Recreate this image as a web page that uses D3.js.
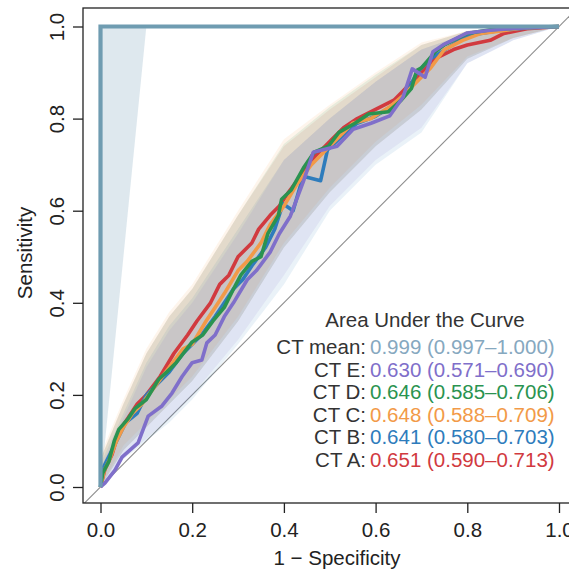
<!DOCTYPE html>
<html>
<head>
<meta charset="utf-8">
<script src="https://cdn.jsdelivr.net/npm/d3@7"></script>
<style>
  html, body { margin: 0; padding: 0; background: #fff; }
  svg { display: block; font-family: "Liberation Sans", Arial, sans-serif; }
</style>
</head>
<body>
<div id="chart"></div>
<script>
// ---- data ----
var ticks = [0, 0.2, 0.4, 0.6, 0.8, 1.0];

var seriesNames = ['CT A', 'CT B', 'CT C', 'CT D', 'CT E'];
var seriesColors = ['#d13a3f', '#2e7cbc', '#f29a48', '#2a9350', '#7f6fca'];
var aucText = ['0.651 (0.590\u20130.713)', '0.641 (0.580\u20130.703)', '0.648 (0.588\u20130.709)',
               '0.646 (0.585\u20130.706)', '0.630 (0.571\u20130.690)'];

var fprA  = [0, 0.01, 0.025, 0.04, 0.06, 0.08, 0.1, 0.13, 0.16, 0.19, 0.21, 0.24, 0.26, 0.28, 0.3, 0.33, 0.345, 0.37, 0.39, 0.41, 0.44, 0.47, 0.5, 0.53, 0.56, 0.6, 0.64, 0.67, 0.7, 0.73, 0.77, 0.8, 0.85, 0.88, 0.93, 1];
var sensA = [0, 0.04, 0.07, 0.12, 0.15, 0.18, 0.2, 0.24, 0.29, 0.33, 0.36, 0.4, 0.44, 0.46, 0.5, 0.53, 0.56, 0.59, 0.61, 0.64, 0.68, 0.72, 0.75, 0.78, 0.8, 0.82, 0.84, 0.87, 0.9, 0.93, 0.95, 0.96, 0.97, 0.985, 0.995, 1];

var fprB  = [0, 0.005, 0.02, 0.04, 0.055, 0.08, 0.1, 0.12, 0.15, 0.18, 0.2, 0.22, 0.25, 0.27, 0.29, 0.31, 0.33, 0.36, 0.38, 0.398, 0.42, 0.442, 0.48, 0.495, 0.53, 0.56, 0.6, 0.64, 0.67, 0.69, 0.72, 0.76, 0.8, 0.86, 0.93, 1];
var sensB = [0, 0.04, 0.07, 0.11, 0.14, 0.16, 0.2, 0.22, 0.25, 0.29, 0.31, 0.33, 0.37, 0.4, 0.43, 0.45, 0.48, 0.52, 0.56, 0.615, 0.6, 0.675, 0.665, 0.732, 0.765, 0.79, 0.805, 0.83, 0.86, 0.9, 0.93, 0.955, 0.98, 0.99, 0.997, 1];

var fprC  = [0, 0.008, 0.02, 0.035, 0.05, 0.07, 0.09, 0.12, 0.15, 0.18, 0.2, 0.23, 0.25, 0.27, 0.3, 0.32, 0.35, 0.37, 0.4, 0.43, 0.46, 0.49, 0.52, 0.55, 0.59, 0.63, 0.66, 0.69, 0.72, 0.75, 0.79, 0.83, 0.87, 0.92, 1];
var sensC = [0, 0.035, 0.06, 0.1, 0.13, 0.16, 0.18, 0.22, 0.26, 0.3, 0.31, 0.36, 0.39, 0.42, 0.47, 0.49, 0.53, 0.57, 0.61, 0.66, 0.7, 0.73, 0.76, 0.79, 0.8, 0.825, 0.85, 0.88, 0.91, 0.95, 0.97, 0.985, 0.99, 0.997, 1];

var fprD  = [0, 0.005, 0.018, 0.03, 0.04, 0.06, 0.075, 0.1, 0.127, 0.145, 0.165, 0.2, 0.223, 0.245, 0.27, 0.29, 0.306, 0.33, 0.35, 0.365, 0.388, 0.395, 0.416, 0.444, 0.466, 0.497, 0.52, 0.555, 0.585, 0.628, 0.656, 0.678, 0.69, 0.7, 0.73, 0.75, 0.8, 0.85, 0.93, 1];
var sensD = [0, 0.03, 0.055, 0.1, 0.125, 0.148, 0.17, 0.19, 0.234, 0.25, 0.27, 0.315, 0.33, 0.36, 0.39, 0.43, 0.46, 0.49, 0.5, 0.55, 0.59, 0.625, 0.645, 0.695, 0.727, 0.74, 0.77, 0.79, 0.81, 0.815, 0.84, 0.865, 0.905, 0.91, 0.945, 0.96, 0.985, 0.993, 0.998, 1];

var fprE  = [0, 0.01, 0.032, 0.047, 0.082, 0.104, 0.134, 0.156, 0.178, 0.2, 0.221, 0.232, 0.25, 0.27, 0.29, 0.32, 0.34, 0.37, 0.39, 0.414, 0.442, 0.464, 0.516, 0.551, 0.59, 0.631, 0.66, 0.68, 0.708, 0.725, 0.747, 0.8, 0.85, 0.921, 1];
var sensE = [0, 0.009, 0.037, 0.065, 0.096, 0.154, 0.176, 0.204, 0.24, 0.27, 0.276, 0.313, 0.33, 0.37, 0.4, 0.45, 0.47, 0.51, 0.55, 0.588, 0.662, 0.727, 0.74, 0.777, 0.79, 0.806, 0.847, 0.908, 0.89, 0.945, 0.96, 0.986, 0.992, 0.997, 1];

// confidence bands, sampled on one fpr grid
var bandFpr = [0, 0.05, 0.1, 0.15, 0.2, 0.3, 0.4, 0.5, 0.6, 0.7, 0.8, 0.9, 1];
var hiA = [0.06, 0.18, 0.29, 0.37, 0.43, 0.59, 0.74, 0.82, 0.89, 0.96, 0.99, 1, 1];
var loA = [0, 0.08, 0.13, 0.18, 0.23, 0.36, 0.52, 0.64, 0.74, 0.82, 0.93, 0.975, 1];
var hiB = [0.05, 0.16, 0.27, 0.35, 0.41, 0.56, 0.71, 0.8, 0.88, 0.95, 0.985, 1, 1];
var loB = [0, 0.06, 0.1, 0.14, 0.19, 0.31, 0.44, 0.6, 0.7, 0.77, 0.92, 0.97, 1];
var hiC = [0.07, 0.19, 0.3, 0.38, 0.44, 0.6, 0.755, 0.83, 0.9, 0.965, 0.99, 1, 1];
var loC = [0, 0.09, 0.14, 0.19, 0.24, 0.37, 0.53, 0.65, 0.75, 0.83, 0.935, 0.975, 1];
var hiD = [0.06, 0.18, 0.29, 0.37, 0.43, 0.59, 0.745, 0.825, 0.895, 0.96, 0.99, 1, 1];
var loD = [0, 0.08, 0.13, 0.18, 0.23, 0.36, 0.52, 0.64, 0.74, 0.82, 0.93, 0.975, 1];
var hiE = [0.04, 0.15, 0.26, 0.34, 0.4, 0.55, 0.71, 0.8, 0.88, 0.95, 0.985, 1, 1];
var loE = [0, 0.065, 0.105, 0.15, 0.2, 0.32, 0.46, 0.61, 0.71, 0.78, 0.92, 0.97, 1];

var meanFpr  = [0, 0, 1];
var meanSens = [0, 1, 1];
var meanCiSens = [0, 0.5, 1];
var meanCiFpr  = [0, 0.05, 0.1];
var meanColor = '#6f9cb1';
var meanText = '0.999 (0.997\u20131.000)';

var fprs  = [fprA, fprB, fprC, fprD, fprE];
var senss = [sensA, sensB, sensC, sensD, sensE];
var his = [hiA, hiB, hiC, hiD, hiE];
var los = [loA, loB, loC, loD, loE];

// ---- layout ----
var W = 569, H = 573;
var box = { left: 83, top: 8, right: 577, bottom: 503 };
var fs = 20.5;

var x = d3.scaleLinear().domain([0, 1]).range([100.5, 559]);
var y = d3.scaleLinear().domain([0, 1]).range([487, 26.5]);

var svg = d3.select('#chart').append('svg').attr('width', W).attr('height', H);

svg.append('defs').append('clipPath').attr('id', 'clip')
	.append('rect').attr('x', box.left).attr('y', box.top)
	.attr('width', box.right - box.left).attr('height', box.bottom - box.top);

var plot = svg.append('g').attr('clip-path', 'url(#clip)');

// chance diagonal spans the whole box
plot.append('line')
	.attr('x1', x(-0.1)).attr('y1', y(-0.1))
	.attr('x2', x(1.1)).attr('y2', y(1.1))
	.attr('stroke', '#8c8c8c').attr('stroke-width', 1.1);

// mean CI band
var meanBand = d3.area()
	.y(function(d) { return y(d[0]); })
	.x0(x(0))
	.x1(function(d) { return x(d[1]); });
plot.append('path')
	.datum(d3.zip(meanCiSens, meanCiFpr))
	.attr('d', meanBand)
	.attr('fill', '#7fa5bc').attr('fill-opacity', 0.26);

// series CI bands
var band = d3.area()
	.x(function(d) { return x(d[0]); })
	.y0(function(d) { return y(d[1]); })
	.y1(function(d) { return y(d[2]); });

seriesNames.forEach(function(name, i) {
	plot.append('path')
		.datum(d3.zip(bandFpr, los[i], his[i]))
		.attr('d', band)
		.attr('fill', seriesColors[i]).attr('fill-opacity', 0.1);
});

// ROC lines
var line = d3.line()
	.x(function(d) { return x(d[0]); })
	.y(function(d) { return y(d[1]); });

seriesNames.forEach(function(name, i) {
	plot.append('path')
		.datum(d3.zip(fprs[i], senss[i]))
		.attr('d', line)
		.attr('fill', 'none')
		.attr('stroke', seriesColors[i])
		.attr('stroke-width', 3.6)
		.attr('stroke-linejoin', 'round');
});

plot.append('path')
	.datum(d3.zip(meanFpr, meanSens))
	.attr('d', line)
	.attr('fill', 'none')
	.attr('stroke', meanColor)
	.attr('stroke-width', 4.2);

// box
svg.append('rect')
	.attr('x', box.left).attr('y', box.top)
	.attr('width', box.right - box.left).attr('height', box.bottom - box.top)
	.attr('fill', 'none').attr('stroke', '#222').attr('stroke-width', 1.3);

// axes
var fmt = d3.format('.1f');

var gx = svg.append('g').attr('transform', 'translate(0,' + box.bottom + ')')
	.call(d3.axisBottom(x).tickValues(ticks).tickFormat(fmt).tickSize(10).tickPadding(9));
gx.select('.domain').remove();
gx.selectAll('line').attr('stroke', '#222').attr('stroke-width', 1.3);
gx.selectAll('text').attr('font-size', fs).attr('fill', '#222')
	.attr('font-family', '"Liberation Sans", Arial, sans-serif');

var gy = svg.append('g').attr('transform', 'translate(' + box.left + ',0)')
	.call(d3.axisLeft(y).tickValues(ticks).tickFormat(fmt).tickSize(10).tickPadding(8));
gy.select('.domain').remove();
gy.selectAll('line').attr('stroke', '#222').attr('stroke-width', 1.3);
gy.selectAll('text')
	.attr('font-size', fs).attr('fill', '#222')
	.attr('font-family', '"Liberation Sans", Arial, sans-serif')
	.attr('x', 0).attr('dy', 0)
	.attr('text-anchor', 'middle')
	.attr('transform', 'translate(-27,0) rotate(-90)')
	.attr('dominant-baseline', 'central');

svg.append('text')
	.attr('x', 337).attr('y', 565)
	.attr('text-anchor', 'middle')
	.attr('font-size', fs).attr('fill', '#222')
	.text('1 \u2212 Specificity');

svg.append('text')
	.attr('transform', 'translate(32,253) rotate(-90)')
	.attr('text-anchor', 'middle')
	.attr('font-size', fs).attr('fill', '#222')
	.text('Sensitivity');

// legend
var legend = svg.append('g').attr('font-size', fs);
legend.append('text')
	.attr('x', 425).attr('y', 327)
	.attr('text-anchor', 'middle').attr('fill', '#333')
	.text('Area Under the Curve');

var rows = [{ label: 'CT mean:', value: meanText, color: '#86a8bf' }];
for (var i = seriesNames.length - 1; i >= 0; i--)
	rows.push({ label: seriesNames[i] + ':', value: aucText[i], color: seriesColors[i] });

rows.forEach(function(r, k) {
	var yy = 354 + k * 22.6;
	legend.append('text').attr('x', 366).attr('y', yy)
		.attr('text-anchor', 'end').attr('fill', '#333').text(r.label);
	legend.append('text').attr('x', 370).attr('y', yy)
		.attr('fill', r.color).text(r.value);
});
</script>
</body>
</html>
